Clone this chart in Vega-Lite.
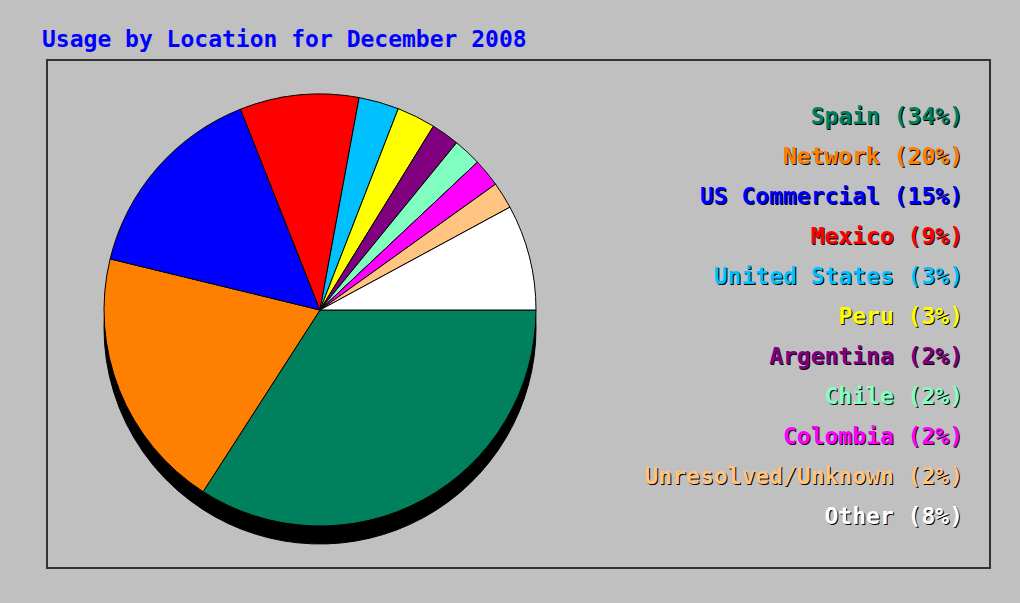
{
  "$schema": "https://vega.github.io/schema/vega-lite/v6.json",
  "autosize": "none",
  "width": 943,
  "height": 508,
  "padding": {"left": 47, "top": 60, "right": 30, "bottom": 35},
  "background": "#c0c0c0",
  "config": {
    "view": {"stroke": "#333333", "strokeWidth": 2, "fill": null}
  },
  "title": {
    "text": "Usage by Location for December 2008",
    "anchor": "start",
    "frame": "group",
    "offset": -10,
    "baseline": "alphabetic",
    "dx": -5,
    "color": "#0000ff",
    "font": "DejaVu Sans Mono",
    "fontSize": 23,
    "fontWeight": "bold"
  },
  "data": {
    "values": [
      {"rank": 1, "location": "Spain", "share": 34.1, "label": "Spain (34%)"},
      {"rank": 2, "location": "Network", "share": 19.7, "label": "Network (20%)"},
      {"rank": 3, "location": "US Commercial", "share": 15.2, "label": "US Commercial (15%)"},
      {"rank": 4, "location": "Mexico", "share": 8.9, "label": "Mexico (9%)"},
      {"rank": 5, "location": "United States", "share": 3.0, "label": "United States (3%)"},
      {"rank": 6, "location": "Peru", "share": 2.9, "label": "Peru (3%)"},
      {"rank": 7, "location": "Argentina", "share": 2.1, "label": "Argentina (2%)"},
      {"rank": 8, "location": "Chile", "share": 2.1, "label": "Chile (2%)"},
      {"rank": 9, "location": "Colombia", "share": 2.1, "label": "Colombia (2%)"},
      {"rank": 10, "location": "Unresolved/Unknown", "share": 2.0, "label": "Unresolved/Unknown (2%)"},
      {"rank": 11, "location": "Other", "share": 7.9, "label": "Other (8%)"}
    ]
  },
  "layer": [
    {
      "mark": {"type": "arc", "radius": 216, "x": 273, "y": 268, "fill": "#000000", "stroke": "#000000", "strokeWidth": 1},
      "encoding": {
        "theta": {"field": "share", "type": "quantitative", "stack": true, "scale": {"range": [1.5707963, 7.8539816]}},
        "order": {"field": "rank", "type": "quantitative"}
      }
    },
    {
      "mark": {"type": "arc", "radius": 216, "x": 273, "y": 250, "stroke": "#000000", "strokeWidth": 1},
      "encoding": {
        "theta": {"field": "share", "type": "quantitative", "stack": true, "scale": {"range": [1.5707963, 7.8539816]}},
        "order": {"field": "rank", "type": "quantitative"},
        "color": {
          "field": "location",
          "type": "nominal",
          "legend": null,
          "scale": {
            "domain": ["Spain", "Network", "US Commercial", "Mexico", "United States", "Peru", "Argentina", "Chile", "Colombia", "Unresolved/Unknown", "Other"],
            "range": ["#00805c", "#ff8000", "#0000ff", "#ff0000", "#00c0ff", "#ffff00", "#800080", "#80ffc0", "#ff00ff", "#ffc480", "#ffffff"]
          }
        }
      }
    },
    {
      "mark": {"type": "text", "align": "right", "baseline": "middle", "x": {"expr": "width - 26"}, "dy": 1, "font": "DejaVu Sans Mono", "fontSize": 23, "fontWeight": "bold", "fill": "#000000"},
      "encoding": {
        "y": {
          "field": "location",
          "type": "nominal",
          "axis": null,
          "scale": {"type": "point", "padding": 0, "domain": ["Spain", "Network", "US Commercial", "Mexico", "United States", "Peru", "Argentina", "Chile", "Colombia", "Unresolved/Unknown", "Other"], "range": [57, 457]}
        },
        "text": {"field": "label"}
      }
    },
    {
      "mark": {"type": "text", "align": "right", "baseline": "middle", "x": {"expr": "width - 27"}, "font": "DejaVu Sans Mono", "fontSize": 23, "fontWeight": "bold"},
      "encoding": {
        "y": {
          "field": "location",
          "type": "nominal",
          "axis": null,
          "scale": {"type": "point", "padding": 0, "domain": ["Spain", "Network", "US Commercial", "Mexico", "United States", "Peru", "Argentina", "Chile", "Colombia", "Unresolved/Unknown", "Other"], "range": [57, 457]}
        },
        "text": {"field": "label"},
        "color": {"field": "location", "type": "nominal", "legend": null}
      }
    }
  ]
}
